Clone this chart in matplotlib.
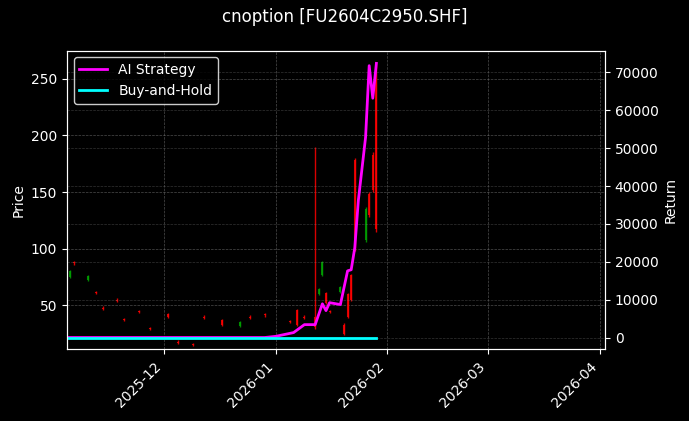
import matplotlib
matplotlib.use("Agg")
import matplotlib.pyplot as plt
import matplotlib.dates as mdates
import pandas as pd
import numpy as np

plt.style.use("dark_background")

c_dates = ["2025-11-05","2025-11-06","2025-11-10","2025-11-12","2025-11-14","2025-11-18","2025-11-20","2025-11-24","2025-11-27",
           "2025-12-02","2025-12-05","2025-12-09","2025-12-12","2025-12-17","2025-12-22","2025-12-25","2025-12-29",
           "2026-01-05","2026-01-07","2026-01-09","2026-01-12","2026-01-13","2026-01-14","2026-01-15","2026-01-16",
           "2026-01-19","2026-01-20","2026-01-21","2026-01-22","2026-01-23","2026-01-26","2026-01-27","2026-01-28","2026-01-29"]
c_open  = [75, 88, 72, 62, 48, 55, 38, 45, 30, 42, 18, 16, 40, 37, 32, 40, 42, 36, 46, 40, 40, 60, 77, 61, 45, 62, 33, 60, 77, 178, 108, 148, 183, 258]
c_close = [80, 87, 76, 61, 47, 54, 37, 44, 29, 40, 17, 15, 39, 33, 35, 39, 41, 35, 33, 39, 31, 64, 88, 52, 44, 66, 25, 40, 55, 100, 135, 130, 152, 117]
c_high  = [81, 89, 77, 63, 49, 56, 39, 46, 31, 43, 19, 17, 41, 38, 36, 41, 43, 37, 47, 41, 190, 65, 89, 62, 46, 67, 34, 61, 78, 180, 137, 150, 185, 262]
c_low   = [74, 86, 71, 60, 46, 53, 36, 43, 28, 39, 16, 14, 38, 32, 31, 38, 40, 34, 32, 38, 29, 59, 76, 51, 43, 61, 24, 39, 54, 98, 106, 128, 150, 115]

s_dates = ["2025-11-04","2025-12-29","2026-01-01","2026-01-06","2026-01-09","2026-01-12","2026-01-14","2026-01-15","2026-01-16",
           "2026-01-19","2026-01-21","2026-01-22","2026-01-23","2026-01-24","2026-01-26","2026-01-27","2026-01-28","2026-01-29"]
strategy = [0, 0, 300, 1300, 3400, 3400, 8900, 7100, 9200, 8700, 17600, 17900, 23700, 36300, 52900, 71800, 63200, 72400]
bh_dates = ["2025-11-04","2026-01-29"]
buyhold = [0, 0]

fig, ax = plt.subplots(figsize=(6.89, 4.21), dpi=100)
fig.patch.set_facecolor("black")
ax.set_facecolor("black")
cd = pd.to_datetime(c_dates)
for d, o, c, h, l in zip(cd, c_open, c_close, c_high, c_low):
    col = "#00a000" if c > o else "red"
    ax.vlines(d, l, h, color=col, lw=1, alpha=0.85)
    ax.vlines(d, min(o, c), max(o, c), color=col, lw=1.5, alpha=0.85)
ax.set_ylim(11, 275)
ax.set_yticks([50, 100, 150, 200, 250])
ax.set_ylabel("Price")
ax.grid(True, ls="--", lw=0.5, color="gray", alpha=0.6)

ax2 = ax.twinx()
ax2.plot(pd.to_datetime(s_dates), strategy, color="#ff00ff", lw=2, label="AI Strategy")
ax2.plot(pd.to_datetime(bh_dates), buyhold, color="cyan", lw=2, label="Buy-and-Hold")
ax2.set_ylim(-3150, 75800)
ax2.set_ylabel("Return")
ax2.legend(loc="upper left", facecolor="black", edgecolor="white")
ax2.grid(True, ls="--", lw=0.5, color="gray", alpha=0.4)

ax.set_xlim(pd.Timestamp("2025-11-04"), pd.Timestamp("2026-04-02 12:00"))
ax.xaxis.set_major_locator(mdates.MonthLocator())
ax.xaxis.set_major_formatter(mdates.DateFormatter("%Y-%m"))
plt.setp(ax.get_xticklabels(), rotation=45, ha="right")
fig.suptitle("cnoption [FU2604C2950.SHF]", color="white", fontsize=12)
fig.subplots_adjust(left=0.097, right=0.878, top=0.88, bottom=0.17)
fig.savefig("out.png", dpi=100, facecolor="black")
